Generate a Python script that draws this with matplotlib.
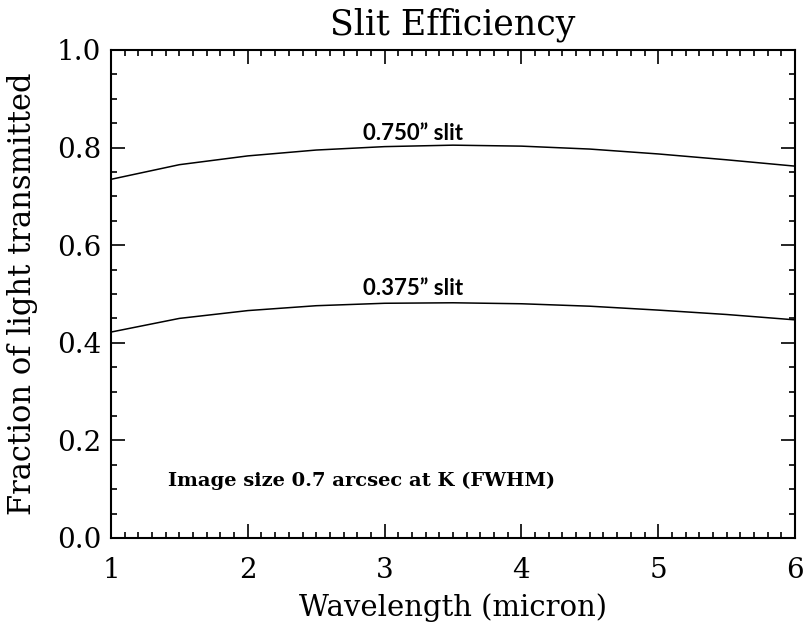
import numpy as np
from matplotlib import pyplot as plt
from matplotlib.ticker import MultipleLocator

# transmitted fraction vs wavelength for two slit widths
wavelength = [1.0, 1.5, 2.0, 2.5, 3.0, 3.5, 4.0, 4.5, 5.0, 5.5, 6.0]
slit_750 = [0.735, 0.765, 0.783, 0.795, 0.802, 0.805, 0.803, 0.797, 0.787, 0.775, 0.762]
slit_375 = [0.422, 0.450, 0.466, 0.476, 0.481, 0.482, 0.480, 0.475, 0.467, 0.458, 0.447]
xticks = [1, 2, 3, 4, 5, 6]
yticks = [0.0, 0.2, 0.4, 0.6, 0.8, 1.0]

serif = 'DejaVu Serif'

fig = plt.figure(figsize=(8.04, 6.22), dpi=100)
ax = fig.add_axes([111/804, 1 - 538/622, 684/804, 488/622])

ax.plot(wavelength, slit_750, color='black', lw=1.1)
ax.plot(wavelength, slit_375, color='black', lw=1.1)

ax.set_xlim(1, 6)
ax.set_ylim(0, 1)
ax.set_xticks(xticks)
ax.set_yticks(yticks)
ax.set_xticklabels([str(t) for t in xticks], family=serif, fontsize=20)
ax.set_yticklabels(['%.1f' % t for t in yticks], family=serif, fontsize=20)
ax.xaxis.set_minor_locator(MultipleLocator(0.1))
ax.yaxis.set_minor_locator(MultipleLocator(0.05))
ax.tick_params(which='both', direction='in', top=True, right=True, width=1.2)
ax.tick_params(which='major', length=10)
ax.tick_params(which='minor', length=4.5)
ax.tick_params(axis='x', which='major', pad=14)
ax.tick_params(axis='y', which='major', pad=7)
for s in ax.spines.values():
    s.set_linewidth(1.5)

ax.set_title('Slit Efficiency', family=serif, fontsize=25, y=1.031, pad=0, va='baseline')
ax.set_xlabel('Wavelength (micron)', family=serif, fontsize=21, labelpad=6)
ax.set_ylabel('Fraction of light transmitted', family=serif, fontsize=22)
ax.yaxis.set_label_coords(-0.107, 0.5)

ax.text(3.21, 0.816, '0.750\u201d slit', family='Lato', fontweight='bold',
        fontsize=16, ha='center', va='baseline')
ax.text(3.21, 0.498, '0.375\u201d slit', family='Lato', fontweight='bold',
        fontsize=16, ha='center', va='baseline')
ax.text(1.42, 0.107, 'Image size 0.7 arcsec at K (FWHM)', family=serif,
        fontweight='bold', fontsize=14, ha='left', va='baseline')

fig.savefig('out.png', dpi=100)
